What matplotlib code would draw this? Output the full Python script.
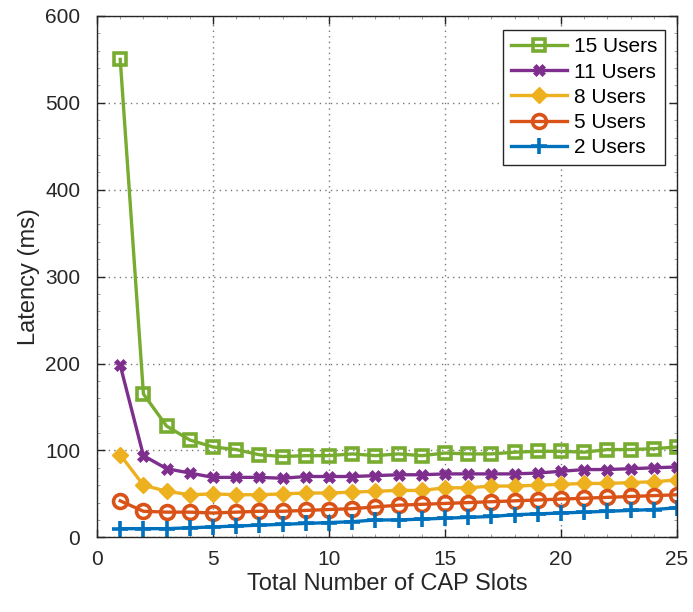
import numpy as np
import matplotlib.pyplot as plt
from matplotlib.ticker import MultipleLocator

plt.rcParams['font.family'] = ['Liberation Sans', 'DejaVu Sans']

# ---- data ----
slots = np.arange(1, 26)

users_15 = [550, 165, 128, 112, 104, 101, 95, 93, 94, 94, 96, 94, 96, 94, 97,
            96, 96, 98, 99, 99, 98, 101, 101, 102, 104]
users_11 = [198, 94, 79, 74, 69, 69, 69, 68, 70, 70, 70, 71, 72, 72, 73,
            73, 73, 73, 74, 76, 78, 78, 79, 80, 81]
users_8 = [95, 60, 53, 49, 50, 49, 49, 50, 51, 51, 52, 53, 54, 54, 57,
           57, 59, 59, 60, 61, 62, 62, 63, 64, 66]
users_5 = [42, 30, 29, 29, 28, 29, 30, 30, 31, 32, 33, 35, 37, 38, 39,
           40, 41, 42, 43, 44, 45, 46, 47, 48, 49]
users_2 = [10, 10, 10, 11, 12, 13, 14, 15, 16, 17, 18, 20, 20, 21, 22,
           23, 24, 26, 27, 28, 29, 30, 31, 32, 34]

labels = ['15 Users', '11 Users', '8 Users', '5 Users', '2 Users']

# ---- figure ----
fig = plt.figure(figsize=(6.93, 6.12), dpi=100)
ax = fig.add_axes([0.140, 0.122, 0.837, 0.852])

lw = 2.4
ax.plot(slots, users_15, color='#77AC30', lw=lw, marker='s', ms=9,
        mfc='none', mew=2.6, label=labels[0])
ax.plot(slots, users_11, color='#7E2F8E', lw=lw, marker='X', ms=9,
        mew=0.5, label=labels[1])
ax.plot(slots, users_8, color='#EDB120', lw=lw, marker='D', ms=8,
        label=labels[2])
ax.plot(slots, users_5, color='#D95319', lw=lw, marker='o', ms=10,
        mfc='none', mew=2.6, label=labels[3])
ax.plot(slots, users_2, color='#0072BD', lw=lw, marker='+', ms=12,
        mew=2.6, label=labels[4])

ax.set_xlim(0, 25)
ax.set_ylim(0, 600)
ax.xaxis.set_major_locator(MultipleLocator(5))
ax.yaxis.set_major_locator(MultipleLocator(100))
ax.xaxis.set_minor_locator(MultipleLocator(1))
ax.yaxis.set_minor_locator(MultipleLocator(20))

ax.grid(True, which='major', linestyle=(0, (1, 3)), color='#555555',
        linewidth=1.0, alpha=0.8)
ax.tick_params(which='major', direction='in', length=6, width=1.0,
               labelsize=15, colors='#262626', top=True, right=True)
ax.tick_params(axis='x', which='major', pad=9)
ax.tick_params(axis='y', which='major', pad=12)
ax.tick_params(which='minor', direction='in', length=2, width=0.5,
               colors='#777777', top=True, right=True)
for s in ax.spines.values():
    s.set_color('#262626')
    s.set_linewidth(1.0)

ax.set_xlabel('Total Number of CAP Slots', fontsize=17, color='#262626',
              labelpad=3)
ax.set_ylabel('Latency (ms)', fontsize=17, color='#262626', labelpad=4)

leg = ax.legend(loc='upper right', fontsize=15, handlelength=2.7,
                handletextpad=0.35, borderpad=0.35, labelspacing=0.3,
                borderaxespad=0, fancybox=False, framealpha=1,
                edgecolor='#262626', bbox_to_anchor=(0.979, 0.973))
leg.get_frame().set_linewidth(1.0)

fig.savefig('out.png', dpi=100)
